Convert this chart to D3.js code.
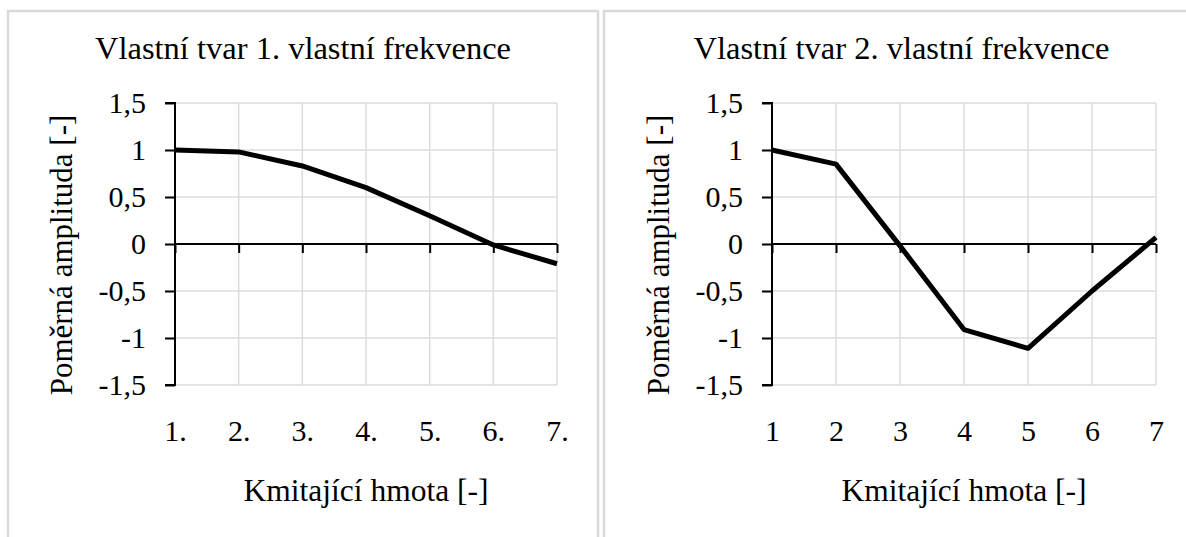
<!DOCTYPE html>
<html>
<head>
<meta charset="utf-8">
<script src="https://cdn.jsdelivr.net/npm/d3@7"></script>
<style>
  body { margin: 0; background: #fff; }
</style>
</head>
<body>
<svg id="chart" width="1186" height="537"></svg>
<script>
// data
const massLabels1 = ["1.", "2.", "3.", "4.", "5.", "6.", "7."];
const massLabels2 = ["1", "2", "3", "4", "5", "6", "7"];
const shape1 = [1.0, 0.98, 0.83, 0.60, 0.30, -0.01, -0.21];
const shape2 = [1.0, 0.85, -0.02, -0.91, -1.11, -0.50, 0.07];
const yTicks = [-1.5, -1, -0.5, 0, 0.5, 1, 1.5];
const titles = ["Vlastní tvar 1. vlastní frekvence", "Vlastní tvar 2. vlastní frekvence"];

const serif = "'Liberation Serif', 'Times New Roman', serif";

const czLocale = d3.formatLocale({ decimal: ",", thousands: " ", grouping: [3], currency: ["", " Kč"], minus: "-" });
const fmt = czLocale.format("~g");

const svg = d3.select("#chart");

const panels = [
    { x0: 8, x1: 598, plotLeft: 175, plotRight: 557, labels: massLabels1, values: shape1, title: titles[0] },
    { x0: 604, x1: 1199, plotLeft: 772, plotRight: 1156, labels: massLabels2, values: shape2, title: titles[1] }
];

const plotTop = 103, plotBottom = 385;

panels.forEach(p => {
    // panel frame
    svg.append("rect")
        .attr("x", p.x0)
        .attr("y", 11)
        .attr("width", p.x1 - p.x0)
        .attr("height", 600)
        .attr("fill", "none")
        .attr("stroke", "#d9d9d9")
        .attr("stroke-width", 2.5);

    const x = d3.scalePoint()
        .domain(p.labels)
        .range([p.plotLeft, p.plotRight]);

    const y = d3.scaleLinear()
        .domain([-1.5, 1.5])
        .range([plotBottom, plotTop]);

    const g = svg.append("g");

    // gridlines
    g.selectAll(".hgrid")
        .data(yTicks)
        .enter()
        .append("line")
        .attr("x1", p.plotLeft)
        .attr("x2", p.plotRight)
        .attr("y1", d => y(d))
        .attr("y2", d => y(d))
        .attr("stroke", "#dcdcdc")
        .attr("stroke-width", 1.5);

    g.selectAll(".vgrid")
        .data(p.labels)
        .enter()
        .append("line")
        .attr("x1", d => x(d))
        .attr("x2", d => x(d))
        .attr("y1", plotTop)
        .attr("y2", plotBottom)
        .attr("stroke", "#dcdcdc")
        .attr("stroke-width", 1.5);

    // y axis
    const yAxis = g.append("g")
        .attr("transform", `translate(${p.plotLeft},0)`)
        .call(d3.axisLeft(y).tickValues(yTicks).tickSize(10).tickPadding(19).tickFormat(fmt));
    yAxis.selectAll("line, path").attr("stroke", "#000").attr("stroke-width", 2);
    yAxis.select(".domain").attr("d", `M-10,${plotBottom}H0V${plotTop}H-10`);

    // x axis on the zero line
    const xAxis = g.append("g")
        .attr("transform", `translate(0,${y(0)})`)
        .call(d3.axisBottom(x).tickSize(9).tickFormat(""));
    xAxis.select(".domain").attr("d", `M${p.plotLeft},0H${p.plotRight}`);
    xAxis.selectAll("line, path").attr("stroke", "#000").attr("stroke-width", 2);

    // category labels under the plot
    const labelAxis = g.append("g")
        .attr("transform", `translate(0,${plotBottom})`)
        .call(d3.axisBottom(x).tickSize(0).tickPadding(35));
    labelAxis.select(".domain").remove();

    // the shape line
    const line = d3.line()
        .x((d, i) => x(p.labels[i]))
        .y(d => y(d));

    g.append("path")
        .datum(p.values)
        .attr("d", line)
        .attr("fill", "none")
        .attr("stroke", "#000")
        .attr("stroke-width", 5)
        .attr("stroke-linejoin", "round");

    g.selectAll("g").attr("font-family", serif).attr("font-size", 30);
    g.selectAll("text").style("font-family", serif).style("font-size", "30px").attr("fill", "#000");

    svg.append("text")
        .style("font-family", serif)
        .style("font-size", "32.5px")
        .attr("text-anchor", "middle")
        .attr("x", (p.x0 + p.x1) / 2)
        .attr("y", 59)
        .text(p.title);

    svg.append("text")
        .style("font-family", serif)
        .style("font-size", "31.5px")
        .attr("text-anchor", "middle")
        .attr("x", (p.plotLeft + p.plotRight) / 2)
        .attr("y", 501)
        .text("Kmitající hmota [-]");

    svg.append("text")
        .style("font-family", serif)
        .style("font-size", "31px")
        .attr("text-anchor", "middle")
        .attr("transform", `translate(${p.plotLeft - 103},${(plotTop + plotBottom) / 2 + 11}) rotate(-90)`)
        .text("Poměrná amplituda [-]");
});
</script>
</body>
</html>
